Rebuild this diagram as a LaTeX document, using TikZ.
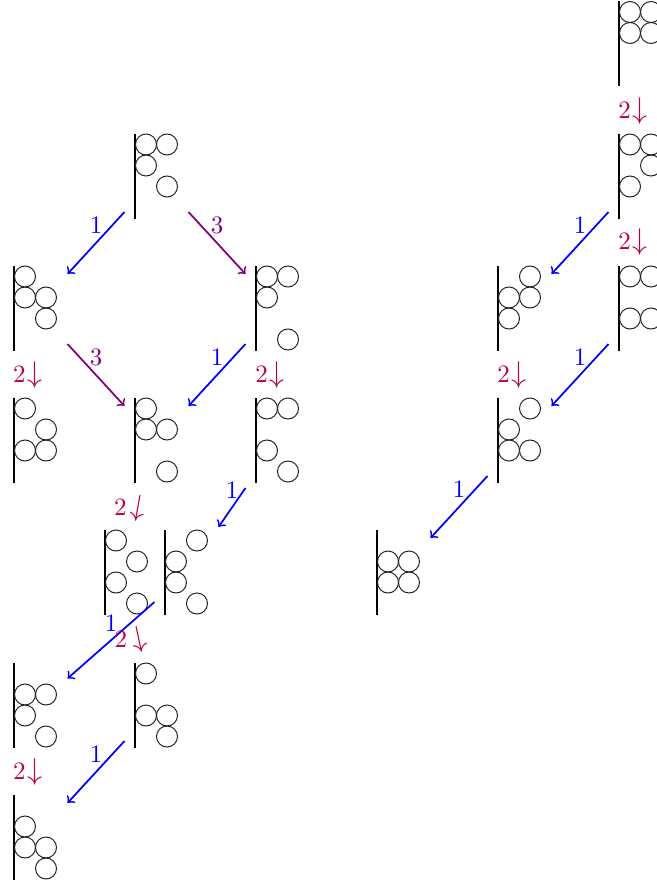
\documentclass[tikz,border=0pt]{standalone}
\usepackage{amsmath}
\usepackage{xcolor}
\usepackage{tikz}

\tikzset{
  wall/.style={line width=1pt},
  ball/.style={line width=0.4pt, black!85},
  cfg/.style={inner sep=0pt, minimum width=25.2pt, minimum height=27.6pt, anchor=north west},
  move/.style={->, line width=0.7pt},
  drop/.style={purple, inner sep=0pt}
}

% one configuration: name, x of the wall, y of its top, cells col/row
\newcommand{\conf}[4]{%
  \draw[wall] (#2,#3) -- ++(0,85);
  \foreach \cx/\cy in {#4}
    \draw[ball] (#2+11+21*\cx, #3+10.5+21*\cy) circle[radius=4.2pt];
  \node[cfg] (#1) at (#2-10.5,#3+8) {};
}

\begin{document}
\begin{tikzpicture}[x=0.4pt, y=-0.4pt]
\useasboundingbox (0,0) rectangle (657,886);

% Draw left tree
\conf{A}{135}{134}{0/0,1/0,0/1,1/2}
\conf{B}{14}{266}{0/0,0/1,1/1,1/2}
\conf{C}{256}{266}{0/0,1/0,0/1,1/3}
\conf{D}{14}{398}{0/0,1/1,0/2,1/2}
\conf{E}{135}{398}{0/0,0/1,1/1,1/3}
\conf{F}{256}{398}{0/0,1/0,0/2,1/3}
\conf{G}{105}{530}{0/0,1/1,0/2,1/3}
\conf{H}{165}{530}{1/0,0/1,0/2,1/3}
\conf{J}{14}{663}{0/1,1/1,0/2,1/3}
\conf{K}{135}{663}{0/0,0/2,1/2,1/3}
\conf{L}{14}{795}{0/1,0/2,1/2,1/3}

% Draw right chain
\conf{M}{619}{1.5}{0/0,1/0,0/1,1/1}
\conf{N}{619}{134}{0/0,1/0,1/1,0/2}
\conf{O}{498}{266}{1/0,0/1,1/1,0/2}
\conf{P}{619}{266}{0/0,1/0,0/2,1/2}
\conf{Q}{498}{398}{1/0,0/1,0/2,1/2}
\conf{I}{377}{530}{0/1,1/1,0/2,1/2}

% Draw moves
\draw[move, blue] (A.south west) -- node[above] (a1) {1} (B.north east);
\draw[move, violet] (A.south east) -- node[above] (a2) {3} (C.north west);
\draw[move, violet] (B.south east) -- node[above] (a3) {3} (E.north west);
\draw[move, blue] (C.south west) -- node[above] (a4) {1} (E.north east);
\draw[move, blue] ([yshift=-4.8pt]F.south west) -- node[above] (a5) {1} ([yshift=4.4pt]H.north east);
\draw[move, blue] ([yshift=2.4pt]H.south west) -- node[above] (a6) {1} ([yshift=-3pt]J.north east);
\draw[move, blue] (K.south west) -- node[above] (a7) {1} (L.north east);
\draw[move, blue] (N.south west) -- node[above] (a8) {1} (O.north east);
\draw[move, blue] (P.south west) -- node[above] (a9) {1} (Q.north east);
\draw[move, blue] (Q.south west) -- node[above] (a10) {1} (I.north east);

% Draw drops
\foreach \n/\x/\y in {d1/28/375, d2/270/375, d3/28/772, d6/633/111, d7/633/242, d8/512/375}
    \node[drop] (\n) at (\x,\y) {2\kern0.8pt{\large$\downarrow$}};
\node[drop] (d4) at (131,508) {2\kern0.8pt\rotatebox[origin=c]{-10}{\large$\downarrow$}};
\node[drop] (d5) at (132,639.5) {2\kern0.8pt\rotatebox[origin=c]{12}{\large$\downarrow$}};
\end{tikzpicture}
\end{document}
